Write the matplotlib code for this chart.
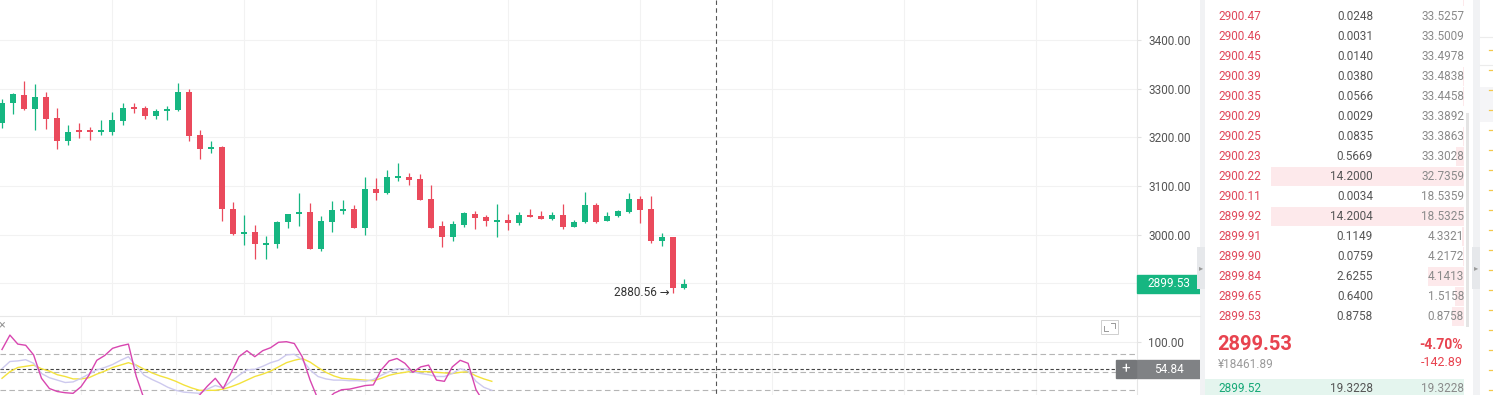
import matplotlib
matplotlib.use('Agg')
import matplotlib.pyplot as plt
import matplotlib.patches as patches
import matplotlib.transforms as mtransforms
import numpy as np

plt.rcParams['font.family'] = ['Roboto', 'DejaVu Sans']

# K線 (63本)
opens = [3229, 3270, 3287, 3259, 3283, 3239, 3193, 3214, 3214, 3211,
         3210, 3234, 3263, 3260, 3244, 3253, 3256, 3293, 3205, 3175,
         3181, 3053, 3002, 3006, 2979, 2981, 3025, 3042, 3046, 2970,
         3027, 3049, 3053, 3014, 3094, 3086, 3117, 3118, 3114, 3073,
         3018, 2996, 3020, 3042, 3036, 3027, 3030, 3023, 3040, 3038,
         3032, 3040, 3016, 3025, 3061, 3029, 3038, 3047, 3073, 3053,
         2987, 2995, 2891]
highs = [3278, 3290, 3316, 3310, 3294, 3260, 3225, 3230, 3222, 3236,
         3251, 3271, 3271, 3265, 3259, 3264, 3311, 3300, 3215, 3192,
         3183, 3067, 3040, 3020, 2997, 3029, 3042, 3086, 3066, 3038,
         3069, 3071, 3061, 3118, 3117, 3133, 3147, 3126, 3124, 3102,
         3028, 3028, 3046, 3049, 3040, 3063, 3042, 3046, 3052, 3049,
         3047, 3063, 3030, 3088, 3066, 3047, 3051, 3085, 3080, 3080,
         3003, 2995, 2909]
lows = [3219, 3248, 3256, 3214, 3217, 3175, 3184, 3198, 3194, 3204,
        3204, 3225, 3249, 3237, 3237, 3235, 3253, 3193, 3155, 3168,
        3028, 3000, 2979, 2951, 2951, 2973, 3013, 3018, 2970, 2967,
        3006, 3042, 3014, 2999, 3071, 3084, 3111, 3101, 3071, 3014,
        2975, 2986, 3015, 3012, 3018, 2995, 3010, 3020, 3036, 3032,
        3030, 3011, 3015, 3023, 3023, 3028, 3037, 3045, 3023, 2982,
        2977, 2880.56, 2888]
closes = [3271, 3288, 3259, 3283, 3238, 3193, 3211, 3211, 3211, 3214,
          3235, 3260, 3259, 3244, 3254, 3258, 3293, 3203, 3175, 3180,
          3052, 3002, 3006, 2980, 2982, 3027, 3042, 3046, 2971, 3028,
          3051, 3053, 3014, 3094, 3086, 3119, 3121, 3112, 3071, 3014,
          2996, 3022, 3044, 3035, 3028, 3030, 3023, 3040, 3037, 3033,
          3040, 3016, 3026, 3061, 3027, 3038, 3049, 3073, 3051, 2986,
          2995, 2891, 2899.53]
last_price = 2899.53
low_mark = 2880.56

# KDJ
kdj_j = [88, 112, 97, 95, 79, 40, 23, 18, 16, 15,
         26, 45, 70, 78, 90, 94, 97, 43, 5, -5,
         -8, 0, -3, 2, 5, 12, 27, 40, 23, 49,
         76, 86, 76, 86, 91, 100, 101, 98, 76, 37,
         5, 2, 15, 21, 22, 25, 28, 29, 54, 69,
         73, 65, 50, 59, 62, 37, 35, 59, 70, 65,
         21, 0, -5]
kdj_k = [56, 68, 69, 71, 65, 48, 41, 37, 33, 34,
         40, 47, 54, 58, 63, 70, 76, 60, 45, 38,
         32, 25, 20, 17, 16, 15, 22, 28, 24, 35,
         45, 54, 55, 60, 66, 70, 79, 80, 71, 54,
         43, 39, 37, 37, 36, 36, 35, 38, 45, 51,
         56, 56, 51, 48, 46, 43, 43, 48, 56, 52,
         35, 25, 20]
kdj_d = [40, 51, 58, 60, 62, 56, 52, 46, 43, 39,
         39, 41, 47, 52, 58, 62, 66, 62, 55, 49,
         44, 40, 35, 29, 24, 20, 20, 20, 22, 26,
         31, 37, 43, 47, 52, 59, 66, 70, 73, 67,
         58, 50, 44, 40, 39, 38, 37, 36, 40, 45,
         48, 50, 52, 51, 51, 50, 49, 48, 50, 51,
         44, 39, 35]
kdj_cross = 54.84

# 板
ask_prices = ['2900.50', '2900.47', '2900.46', '2900.45', '2900.39', '2900.35',
              '2900.29', '2900.25', '2900.23', '2900.22', '2900.11', '2899.92',
              '2899.91', '2899.90', '2899.84', '2899.65', '2899.53']
ask_amounts = [0.1002, 0.0248, 0.0031, 0.0140, 0.0380, 0.0566, 0.0029, 0.0835,
               0.5669, 14.2000, 0.0034, 14.2004, 0.1149, 0.0759, 2.6255,
               0.6400, 0.8758]
ask_totals = ['33.6259', '33.5257', '33.5009', '33.4978', '33.4838', '33.4458',
              '33.3892', '33.3863', '33.3028', '32.7359', '18.5359', '18.5325',
              '4.3321', '4.2172', '4.1413', '1.5158', '0.8758']
bid_price = '2899.52'
bid_amount = 19.3228
bid_total = '19.3228'
cny_price = '¥18461.89'
change_pct = '-4.70%'
change_abs = '-142.89'

W, H = 1493, 395
green = '#16b681'
red = '#ea4a5c'

fig = plt.figure(figsize=(W / 100, H / 100), dpi=100, facecolor='white')

# 主図
ax = fig.add_axes([0, 80 / H, 1137 / W, 315 / H])
n = len(opens)
idx = np.arange(n)
o = np.array(opens, float)
c = np.array(closes, float)
up = c >= o
cols = np.where(up, green, red)
ax.vlines(idx, lows, highs, colors=cols, linewidth=0.9, zorder=3)
body_lo = np.minimum(o, c)
body_h = np.maximum(np.abs(c - o), 2.5)
ax.bar(idx, body_h, bottom=body_lo, width=0.62, color=cols, zorder=4)

ax.set_xlim(-2 / 11, (1137 - 2) / 11)
ax.set_ylim(2835, 3482)
ax.set_yticks([2900, 3000, 3100, 3200, 3300, 3400])
ax.yaxis.set_major_formatter(matplotlib.ticker.FormatStrFormatter('%.2f'))
ax.yaxis.tick_right()
ax.tick_params(axis='y', length=3, color='#e2e2e2', labelcolor='#555555',
               labelsize=8.5, pad=5)
ax.set_xticks([])
for s in ['top', 'left', 'bottom']:
    ax.spines[s].set_visible(False)
ax.spines['right'].set_color('#e6e6e6')
for yv in [2900, 3000, 3100, 3200, 3300, 3400]:
    ax.axhline(yv, color='#f2f2f2', linewidth=0.8, zorder=0)
for xv in range(10, 103, 12):
    ax.axvline(xv, color='#f2f2f2', linewidth=0.8, zorder=0)

# 最安値ラベル
ax.text(61 - 0.3, low_mark, '%.2f →' % low_mark, ha='right', va='center',
        fontsize=8.5, color='#333333', zorder=6)

# 現在値タグ
blend = mtransforms.blended_transform_factory(ax.transAxes, ax.transData)
ax.add_patch(patches.Rectangle((1.0, last_price - 18.5), 63 / 1137, 37,
                               transform=blend, clip_on=False,
                               color=green, zorder=8))
ax.text(1 + 32 / 1137, last_price, '%.2f' % last_price, transform=blend,
        ha='center', va='center', color='white', fontsize=8.5,
        clip_on=False, zorder=9)

# KDJ パネル
ax2 = fig.add_axes([0, 0, 1137 / W, 79 / H])
ii = np.arange(n)
ax2.plot(ii, kdj_d, color='#f3e23c', linewidth=1.0, zorder=3)
ax2.plot(ii, kdj_k, color='#cdc9ee', linewidth=1.0, zorder=3)
ax2.plot(ii, kdj_j, color='#d846b0', linewidth=1.0, zorder=4)
ax2.set_xlim(-2 / 7.9, (1137 - 2) / 7.9)
ax2.set_ylim(12.2, 143.8)
ax2.set_yticks([100])
ax2.yaxis.set_major_formatter(matplotlib.ticker.FormatStrFormatter('%.2f'))
ax2.yaxis.tick_right()
ax2.tick_params(axis='y', length=3, color='#e2e2e2', labelcolor='#555555',
                labelsize=8.5, pad=5)
ax2.set_xticks([])
for s in ['top', 'left', 'bottom']:
    ax2.spines[s].set_visible(False)
ax2.spines['right'].set_color('#e6e6e6')
ax2.axhline(100, color='#f0f0f0', linewidth=0.8, zorder=0)
for lv in [80, 50, 20]:
    ax2.axhline(lv, color='#b5b5b5', linewidth=0.8, dashes=(5, 3), zorder=1)
ax2.axhline(kdj_cross, color='#444444', linewidth=0.8, dashes=(3, 2), zorder=2)
for xv in [10, 22, 34, 46] + [(11 * j) / 7.9 for j in (70, 82, 94)]:
    ax2.axvline(xv, color='#f2f2f2', linewidth=0.8, zorder=0)

blend2 = mtransforms.blended_transform_factory(ax2.transAxes, ax2.transData)
ax2.add_patch(patches.Rectangle((1.0, kdj_cross - 15), 63 / 1137, 30,
                                transform=blend2, clip_on=False,
                                color='#808285', zorder=8))
ax2.add_patch(patches.Rectangle((1 - 21 / 1137, kdj_cross - 15), 20 / 1137, 30,
                                transform=blend2, clip_on=False,
                                color='#75777a', zorder=8))
ax2.text(1 + 32 / 1137, kdj_cross, '%.2f' % kdj_cross, transform=blend2,
         ha='center', va='center', color='white', fontsize=8.5,
         clip_on=False, zorder=9)
ax2.text(1 - 11 / 1137, kdj_cross, '+', transform=blend2, ha='center',
         va='center', color='white', fontsize=11, clip_on=False, zorder=9)

# オーバーレイ (ピクセル座標)
ov = fig.add_axes([0, 0, 1, 1], zorder=10)
ov.set_xlim(0, W)
ov.set_ylim(H, 0)
ov.axis('off')
ov.patch.set_alpha(0)

# 十字線
ov.plot([716, 716], [0, H], color='#555555', linewidth=0.8, dashes=(4, 3))
# パネル区切り
ov.plot([0, 1200], [315.5, 315.5], color='#e8e8e8', linewidth=0.8)
ov.add_patch(patches.Rectangle((1200, 0), 5, H, color='#f1f2f4', lw=0))
ov.add_patch(patches.Rectangle((1197, 247), 8, 42, color='#e6e8eb', lw=0))
ov.text(1201, 268, '▸', ha='center', va='center', fontsize=6, color='#9a9a9a',
        family=['DejaVu Sans'])
ov.add_patch(patches.Rectangle((1473, 0), 7, H, color='#f1f2f4', lw=0))
ov.add_patch(patches.Rectangle((1472, 247), 8, 42, color='#e6e8eb', lw=0))
ov.text(1476, 268, '▸', ha='center', va='center', fontsize=6, color='#9a9a9a',
        family=['DejaVu Sans'])
ov.add_patch(patches.Rectangle((1466, 113), 3, 214, color='#e4e4e4', lw=0))

# 拡大アイコン / 閉じる
ov.add_patch(patches.Rectangle((1101, 320), 17, 14, fill=False,
                               edgecolor='#cfcfcf', linewidth=0.7))
ov.plot([1104, 1104, 1108], [326, 331, 331], color='#999999', linewidth=0.7)
ov.plot([1111, 1115, 1115], [323, 323, 328], color='#999999', linewidth=0.7)
ov.text(-2, 325, '×', ha='left', va='center', fontsize=9, color='#999999')

# 右端パネル
ov.plot([1480, W], [37, 37], color='#ececec', linewidth=0.8)
ov.plot([1480, W], [65, 65], color='#ececec', linewidth=0.8)
ov.add_patch(patches.Rectangle((1480, 87), 13, 35, color='#f5f5f7', lw=0))
for yy in np.arange(50, 395, 20):
    ov.plot([1489, W], [yy, yy], color='#f4c84a', linewidth=0.9)

# 板 (売り)
for k in range(len(ask_prices)):
    yy = -4 + 20 * k
    bw = ask_amounts[k] * 13.6
    ov.add_patch(patches.Rectangle((1464 - bw, yy - 9.5), bw, 19,
                                   color='#fde9eb', lw=0, zorder=1))
    ov.text(1218, yy, ask_prices[k], ha='left', va='center', fontsize=8.5,
            color='#e0475a', zorder=2)
    ov.text(1373, yy, '%.4f' % ask_amounts[k], ha='right', va='center',
            fontsize=8.5, color='#555555', zorder=2)
    ov.text(1464, yy, ask_totals[k], ha='right', va='center', fontsize=8.5,
            color='#8a8a8a', zorder=2)

# 現在値
ov.text(1217, 344, '%.2f' % last_price, ha='left', va='center', fontsize=14.5,
        fontweight='bold', color='#e8434f')
ov.text(1218, 364, cny_price, ha='left', va='center', fontsize=8.5,
        color='#9a9a9a')
ov.text(1463, 345, change_pct, ha='right', va='center', fontsize=10,
        fontweight='bold', color='#e8434f')
ov.text(1463, 363, change_abs, ha='right', va='center', fontsize=9,
        color='#e8434f')

# 板 (買い)
bw = min(bid_amount * 13.6, 1464 - 1205)
ov.add_patch(patches.Rectangle((1464 - bw, 379), bw, 19, color='#e4f5ee', lw=0))
ov.text(1218, 388, bid_price, ha='left', va='center', fontsize=8.5,
        color='#16a877')
ov.text(1373, 388, '%.4f' % bid_amount, ha='right', va='center', fontsize=8.5,
        color='#555555')
ov.text(1464, 388, bid_total, ha='right', va='center', fontsize=8.5,
        color='#8a8a8a')

fig.savefig('out.png', dpi=100)
